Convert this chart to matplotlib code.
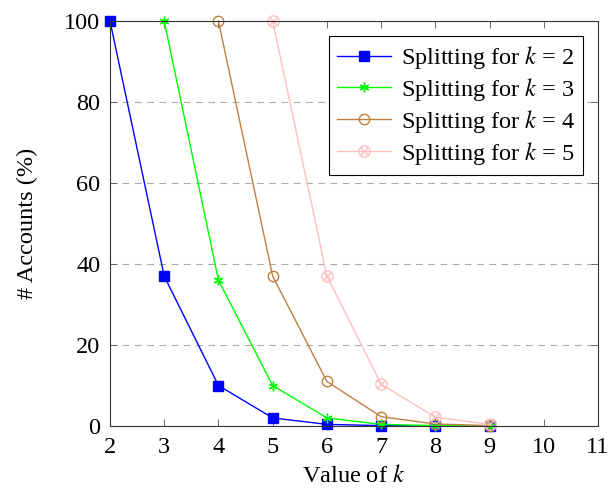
import matplotlib
matplotlib.use("Agg")
import matplotlib.pyplot as plt

plt.rcParams["font.family"] = ["Liberation Serif", "DejaVu Serif"]
plt.rcParams["mathtext.fontset"] = "stix"

# values
x_k2 = [2, 3, 4, 5, 6, 7, 8, 9]
y_k2 = [100, 37, 10, 2, 0.4, 0.1, 0, 0]
x_k3 = [3, 4, 5, 6, 7, 8, 9]
y_k3 = [100, 36, 10, 2, 0.4, 0.1, 0]
x_k4 = [4, 5, 6, 7, 8, 9]
y_k4 = [100, 37, 11, 2.3, 0.5, 0.1]
x_k5 = [5, 6, 7, 8, 9]
y_k5 = [100, 37, 10.3, 2.2, 0.4]

x_ticks = list(range(2, 12))
y_ticks = [0, 20, 40, 60, 80, 100]

fig = plt.figure(figsize=(6.09, 4.90), dpi=100)
ax = fig.add_axes([0.1806, 0.1306, 0.8014, 0.8265])

fs = 17.5
ax.plot(x_k2, y_k2, color="blue", lw=1, marker="s", ms=7.5, clip_on=False,
        label=r"Splitting for $k$ = 2")
ax.plot(x_k3, y_k3, color="#00ff00", lw=1, marker=(6, 2, 0), ms=7, mew=1,
        clip_on=False, label=r"Splitting for $k$ = 3")
ax.plot(x_k4, y_k4, color="#bf8040", lw=1, marker="o", ms=7.5, mfc="none", mew=1,
        clip_on=False, label=r"Splitting for $k$ = 4")
ax.plot(x_k5, y_k5, color="#ffbfbf", lw=1, marker=r"$\otimes$", ms=9, mew=0.2,
        clip_on=False, label=r"Splitting for $k$ = 5")

ax.set_xlim(2, 11)
ax.set_ylim(0, 100)
ax.set_xticks(x_ticks)
ax.set_yticks(y_ticks)
ax.tick_params(direction="in", top=True, right=True, labelsize=fs, length=5,
               width=0.6, color="#555555")
ax.tick_params(axis="x", pad=8)
ax.tick_params(axis="y", pad=7)
ax.yaxis.grid(True, linestyle=(0, (6, 5)), color="#aaaaaa", lw=0.8)
ax.set_axisbelow(True)
for s in ax.spines.values():
    s.set_linewidth(0.8)
    s.set_color("#333333")

ax.set_xlabel(r"Value of $k$", fontsize=fs, labelpad=5)
ax.set_ylabel(r"# Accounts (%)", fontsize=fs, labelpad=19)

leg = ax.legend(loc="upper right", fontsize=fs, fancybox=False, framealpha=1,
                edgecolor="black", borderpad=0.35, labelspacing=0.2,
                handlelength=2.2, handletextpad=0.4, borderaxespad=0.6)
leg.get_frame().set_linewidth(0.8)

fig.savefig("out.png", dpi=100)
